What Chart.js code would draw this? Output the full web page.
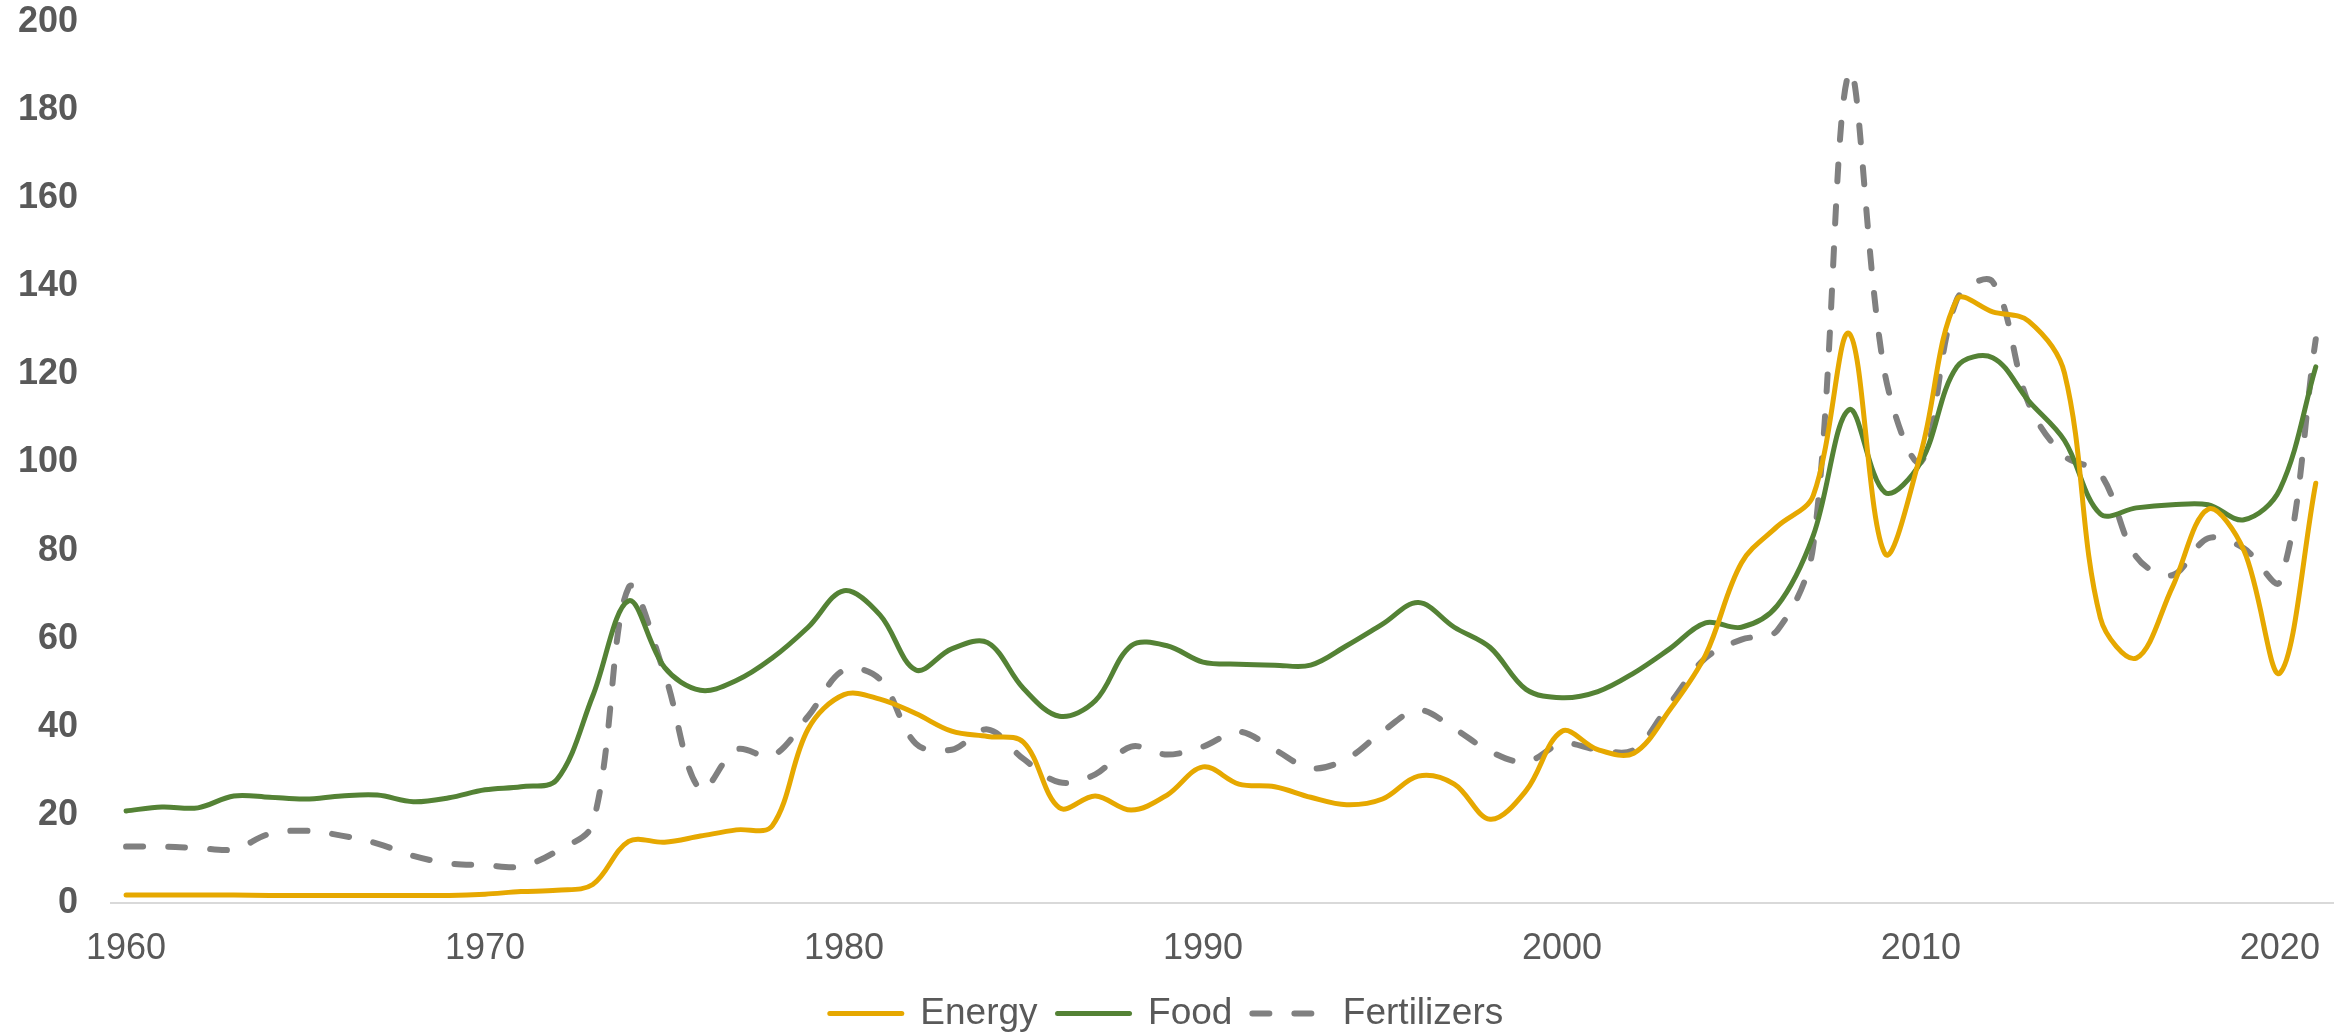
<!DOCTYPE html>
<html>
<head>
<meta charset="utf-8">
<script src="https://cdn.jsdelivr.net/npm/chart.js@4.4.1/dist/chart.umd.min.js"></script>
<style>
  html, body { margin: 0; padding: 0; background: #fff; }
  #wrap { width: 2351px; height: 1034px; }
</style>
</head>
<body>
<div id="wrap"><canvas id="pricesChart" width="2351" height="1034"></canvas></div>
<script>
const years = [];
for (let y = 1960; y <= 2021; y++) years.push(y);

const energy = [
  1.8, 1.8, 1.8, 1.8, 1.7, 1.7, 1.7, 1.7, 1.7, 1.7,
  2.0, 2.6, 2.9, 4.2, 14.0, 13.8, 15.2, 16.6, 17.5, 39.5,
  47.3, 46.3, 43.0, 39.0, 37.8, 36.5, 21.6, 24.3, 21.1, 24.5,
  30.9, 27.0, 26.4, 24.0, 22.3, 23.6, 28.8, 27.0, 19.0, 25.5,
  39.0, 34.8, 34.0, 43.8, 56.3, 77.2, 85.5, 92.5, 129.3, 79.3,
  102.2, 137.0, 134.2, 132.1, 120.3, 64.7, 55.6, 71.6, 89.4, 80.0,
  52.2, 95.3
];

const food = [
  20.9, 21.8, 21.6, 24.3, 24.0, 23.6, 24.3, 24.5, 23.0, 23.9,
  25.7, 26.4, 28.0, 47.0, 68.6, 53.5, 48.3, 50.5, 55.6, 62.6,
  70.9, 65.4, 52.9, 57.7, 59.1, 48.7, 42.4, 45.9, 58.4, 58.4,
  54.7, 54.2, 54.0, 54.0, 58.4, 63.3, 68.2, 62.6, 58.0, 48.5,
  46.6, 48.0, 52.2, 57.7, 63.6, 62.6, 67.5, 83.4, 112.0, 93.2,
  100.1, 121.7, 123.8, 114.0, 105.0, 88.3, 89.7, 90.4, 90.4, 87.0,
  93.9, 121.7
];

const fertilizers = [
  12.8, 12.8, 12.5, 12.2, 15.7, 16.4, 15.3, 13.5, 10.7, 9.0,
  8.6, 8.3, 11.8, 18.0, 71.6, 52.0, 25.7, 34.8, 33.4, 42.4,
  52.9, 50.8, 36.2, 34.8, 39.4, 32.7, 27.4, 29.2, 35.5, 33.7,
  35.5, 38.9, 34.8, 30.6, 32.7, 38.9, 43.8, 39.6, 34.4, 32.0,
  36.2, 34.8, 34.8, 45.2, 55.6, 59.8, 61.9, 81.0, 188.5, 120.0,
  100.1, 137.0, 141.0, 113.4, 101.5, 97.4, 78.6, 74.4, 82.8, 80.5,
  73.0, 128.0
];

const xTicks = [1960, 1970, 1980, 1990, 2000, 2010, 2020];
const yTicks = [0, 20, 40, 60, 80, 100, 120, 140, 160, 180, 200];

const toPoints = (arr) => arr.map((v, i) => ({ x: years[i], y: v }));

const textGray = "#595959";
const fontFamily = "'Liberation Sans', Arial, sans-serif";

const ctx = document.getElementById("pricesChart").getContext("2d");
const chart = new Chart(ctx, {
  type: "line",
  data: {
    datasets: [
      {
        label: "Energy",
        data: toPoints(energy),
        borderColor: "#E6A800",
        backgroundColor: "#E6A800",
        borderWidth: 5,
        pointRadius: 0,
        tension: 0.35,
        borderCapStyle: "round",
      },
      {
        label: "Food",
        data: toPoints(food),
        borderColor: "#548235",
        backgroundColor: "#548235",
        borderWidth: 5,
        pointRadius: 0,
        tension: 0.35,
        borderCapStyle: "round",
      },
      {
        label: "Fertilizers",
        data: toPoints(fertilizers),
        borderColor: "#808080",
        backgroundColor: "#808080",
        borderWidth: 6,
        borderDash: [17, 25],
        borderCapStyle: "round",
        pointRadius: 0,
        tension: 0.35,
      },
    ],
  },
  options: {
    responsive: false,
    animation: false,
    layout: {
      padding: { top: 22, right: 18, bottom: -8, left: 0 },
    },
    plugins: {
      tooltip: { enabled: false },
      legend: {
        position: "bottom",
        labels: {
          usePointStyle: true,
          pointStyle: "line",
          pointStyleWidth: 72,
          boxHeight: 6,
          padding: 20,
          color: textGray,
          font: { family: fontFamily, size: 37 },
          // point style legend items don't carry the line dash, so copy it over
          generateLabels: (c) =>
            Chart.defaults.plugins.legend.labels.generateLabels(c).map((item) => {
              const ds = c.data.datasets[item.datasetIndex];
              item.lineDash = ds.borderDash || [];
              item.lineWidth = ds.borderWidth;
              item.lineCap = "round";
              item.strokeStyle = ds.borderColor;
              return item;
            }),
        },
      },
    },
    scales: {
      x: {
        type: "linear",
        min: 1959.58,
        max: 2021.48,
        afterBuildTicks: (scale) => {
          scale.ticks = xTicks.map((v) => ({ value: v }));
        },
        afterFit: (scale) => {
          scale.height = 72;
        },
        grid: { display: false, drawTicks: false },
        border: { display: true, color: "#D9D9D9", width: 2 },
        ticks: {
          color: textGray,
          padding: 24,
          maxRotation: 0,
          autoSkip: false,
          font: { family: fontFamily, size: 36 },
          callback: (value) => String(value),
        },
      },
      y: {
        min: 0,
        max: 200,
        afterBuildTicks: (scale) => {
          scale.ticks = yTicks.map((v) => ({ value: v }));
        },
        afterFit: (scale) => {
          scale.width = 111;
          scale.paddingTop = 0;
          scale.paddingBottom = 0;
        },
        grid: { display: false, drawTicks: false },
        border: { display: false },
        ticks: {
          color: textGray,
          padding: 33,
          font: { family: fontFamily, size: 36, weight: "bold" },
        },
      },
    },
  },
});
</script>
</body>
</html>
